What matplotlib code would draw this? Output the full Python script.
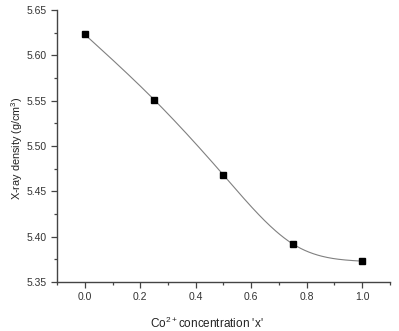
import numpy as np
import matplotlib
matplotlib.use("Agg")
import matplotlib.pyplot as plt
from matplotlib.ticker import MultipleLocator

plt.rcParams['font.family'] = ['Liberation Sans', 'DejaVu Sans']
plt.rcParams['mathtext.fontset'] = 'custom'
plt.rcParams['mathtext.rm'] = 'Liberation Sans'

conc = [0.0, 0.25, 0.5, 0.75, 1.0]
density = [5.623, 5.551, 5.468, 5.392, 5.373]


def natural_spline(x, y, xs):
    x = np.asarray(x, float)
    y = np.asarray(y, float)
    n = len(x)
    h = np.diff(x)
    A = np.zeros((n, n))
    b = np.zeros(n)
    A[0, 0] = A[-1, -1] = 1
    for i in range(1, n - 1):
        A[i, i - 1] = h[i - 1]
        A[i, i] = 2 * (h[i - 1] + h[i])
        A[i, i + 1] = h[i]
        b[i] = 3 * ((y[i + 1] - y[i]) / h[i] - (y[i] - y[i - 1]) / h[i - 1])
    c = np.linalg.solve(A, b)
    out = []
    for v in xs:
        i = min(np.searchsorted(x, v, side='right') - 1, n - 2)
        dx = v - x[i]
        bi = (y[i + 1] - y[i]) / h[i] - h[i] * (2 * c[i] + c[i + 1]) / 3
        di = (c[i + 1] - c[i]) / (3 * h[i])
        out.append(y[i] + bi * dx + c[i] * dx ** 2 + di * dx ** 3)
    return np.array(out)


xs = np.linspace(conc[0], conc[-1], 200)
ys = natural_spline(conc, density, xs)

fig = plt.figure(figsize=(3.99, 3.31), dpi=100)
ax = fig.add_axes([0.143, 0.148, 0.834, 0.822])

ax.plot(xs, ys, color='#808080', lw=0.8)
ax.plot(conc, density, 's', color='black', ms=4.5)

ax.set_xlim(-0.1, 1.1)
ax.set_ylim(5.35, 5.65)
ax.xaxis.set_major_locator(MultipleLocator(0.2))
ax.xaxis.set_minor_locator(MultipleLocator(0.1))
ax.yaxis.set_major_locator(MultipleLocator(0.05))
ax.yaxis.set_minor_locator(MultipleLocator(0.025))
ax.xaxis.set_major_formatter(plt.FormatStrFormatter('%.1f'))
ax.yaxis.set_major_formatter(plt.FormatStrFormatter('%.2f'))

for s in ['top', 'right']:
    ax.spines[s].set_visible(False)
for s in ['left', 'bottom']:
    ax.spines[s].set_color('#444444')
    ax.spines[s].set_linewidth(1.0)

ax.tick_params(which='major', length=4, width=0.9, colors='#444444', labelsize=7.5, labelcolor='#333333')
ax.tick_params(which='minor', length=2.5, width=0.9, colors='#444444')

ax.set_xlabel("Co$^{\\mathregular{2+}}$concentration 'x'", fontsize=8.5, color='#222222')
ax.xaxis.set_label_coords(0.45, -0.125)
ax.set_ylabel("X-ray density (g/cm$^{\\mathregular{3}}$)", fontsize=7.8, color='#222222')
ax.yaxis.set_label_coords(-0.095, 0.49)

fig.savefig('out.png', dpi=100)
